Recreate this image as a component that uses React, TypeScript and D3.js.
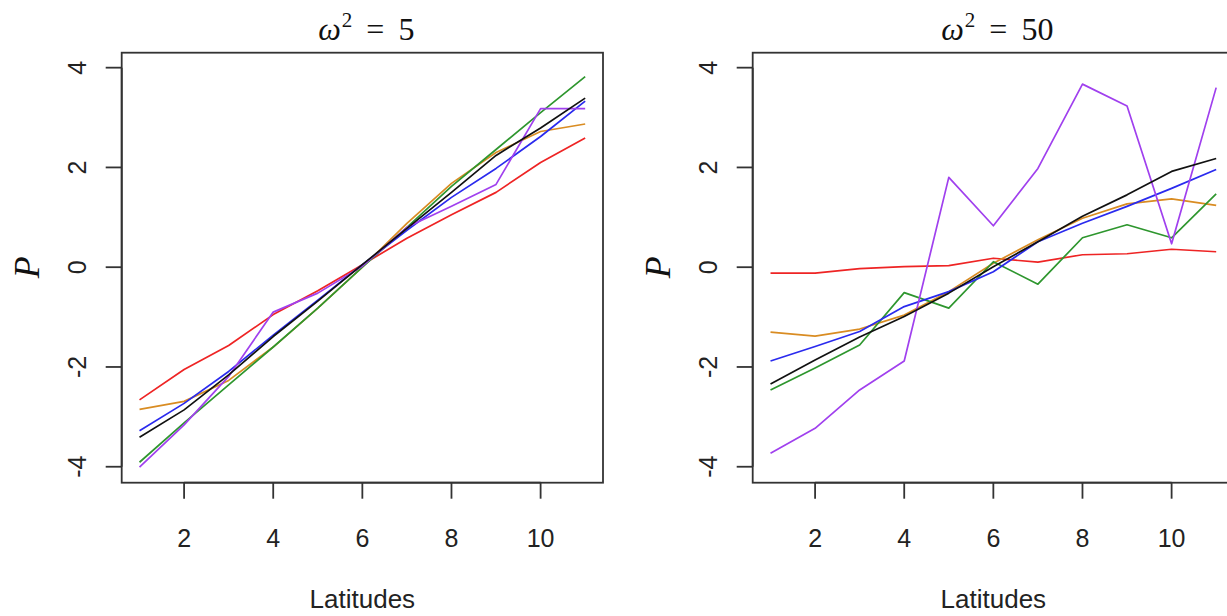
import React from "react";
import * as d3 from "d3";

const latitudes = [1, 2, 3, 4, 5, 6, 7, 8, 9, 10, 11];
const xTicks = [2, 4, 6, 8, 10];
const yTicks = [-4, -2, 0, 2, 4];

const seriesNames = ["red", "orange", "green", "blue", "purple", "black"];
const seriesColors = ["#ee2424", "#d98c22", "#2e962e", "#2a2aee", "#a040ee", "#111111"];

// omega^2 = 5
const w5Red = [-2.66, -2.05, -1.57, -0.95, -0.47, 0.05, 0.58, 1.05, 1.5, 2.1, 2.59];
const w5Orange = [-2.85, -2.69, -2.27, -1.6, -0.82, 0.0, 0.88, 1.68, 2.3, 2.72, 2.87];
const w5Green = [-3.91, -3.12, -2.36, -1.6, -0.82, 0.0, 0.8, 1.62, 2.36, 3.1, 3.82];
const w5Blue = [-3.28, -2.73, -2.09, -1.36, -0.66, 0.05, 0.74, 1.4, 1.98, 2.62, 3.33];
const w5Purple = [-4.01, -3.16, -2.19, -0.9, -0.52, 0.02, 0.8, 1.22, 1.66, 3.18, 3.18];
const w5Black = [-3.41, -2.86, -2.16, -1.39, -0.68, 0.05, 0.78, 1.5, 2.24, 2.79, 3.39];

// omega^2 = 50
const w50Red = [-0.12, -0.12, -0.03, 0.01, 0.03, 0.18, 0.1, 0.25, 0.27, 0.36, 0.31];
const w50Orange = [-1.3, -1.38, -1.24, -0.96, -0.49, 0.08, 0.55, 0.98, 1.27, 1.37, 1.24];
const w50Green = [-2.46, -2.02, -1.56, -0.51, -0.82, 0.11, -0.34, 0.59, 0.85, 0.59, 1.47];
const w50Blue = [-1.88, -1.59, -1.29, -0.79, -0.49, -0.09, 0.51, 0.88, 1.22, 1.58, 1.96];
const w50Purple = [-3.73, -3.23, -2.46, -1.88, 1.8, 0.83, 1.98, 3.67, 3.23, 0.47, 3.6];
const w50Black = [-2.34, -1.86, -1.4, -0.99, -0.52, 0.01, 0.51, 1.02, 1.45, 1.92, 2.18];

const panels = [
  { title: "5", left: 121.7, series: [w5Red, w5Orange, w5Green, w5Blue, w5Purple, w5Black] },
  { title: "50", left: 752.7, series: [w50Red, w50Orange, w50Green, w50Blue, w50Purple, w50Black] },
];

const PW = 481.3;
const TOP = 52.7;
const BOTTOM = 482.7;
const AXIS = "#333333";
const SANS = "'Liberation Sans', Arial, Helvetica, sans-serif";
const SERIF = "'Liberation Serif', 'DejaVu Serif', serif";

function Panel({ p }: { p: (typeof panels)[number] }) {
  const x = d3.scaleLinear().domain([0.6, 11.4]).range([p.left, p.left + PW]);
  const y = d3.scaleLinear().domain([-4.32, 4.3]).range([BOTTOM, TOP]);
  const line = d3
    .line<number>()
    .x((_, i) => x(latitudes[i]))
    .y((d) => y(d));
  const cx = p.left + PW / 2;
  const pX = p.left - 83;
  return (
    <g>
      {p.series.map((s, i) => (
        <path key={seriesNames[i]} d={line(s) || ""} fill="none" stroke={seriesColors[i]} strokeWidth={1.7} strokeLinejoin="round" />
      ))}
      <rect x={p.left} y={TOP} width={PW} height={BOTTOM - TOP} fill="none" stroke={AXIS} strokeWidth={1.8} />
      {/* x axis */}
      <line x1={x(xTicks[0])} x2={x(xTicks[xTicks.length - 1])} y1={BOTTOM} y2={BOTTOM} stroke={AXIS} strokeWidth={1.8} />
      {xTicks.map((t) => (
        <g key={"x" + t}>
          <line x1={x(t)} x2={x(t)} y1={BOTTOM} y2={BOTTOM + 16} stroke={AXIS} strokeWidth={1.8} />
          <text x={x(t)} y={547} textAnchor="middle" fontFamily={SANS} fontSize={25} fill="#222">
            {t}
          </text>
        </g>
      ))}
      {/* y axis */}
      <line x1={p.left} x2={p.left} y1={y(yTicks[0])} y2={y(yTicks[yTicks.length - 1])} stroke={AXIS} strokeWidth={1.8} />
      {yTicks.map((t) => (
        <g key={"y" + t}>
          <line x1={p.left - 16} x2={p.left} y1={y(t)} y2={y(t)} stroke={AXIS} strokeWidth={1.8} />
          <text
            x={p.left - 36}
            y={y(t)}
            transform={`rotate(-90, ${p.left - 36}, ${y(t)})`}
            textAnchor="middle"
            fontFamily={SANS}
            fontSize={25}
            fill="#222"
          >
            {t}
          </text>
        </g>
      ))}
      {/* titles */}
      <text x={cx + 4} y={40} textAnchor="middle" fontFamily={SERIF} fontSize={32} fill="#111">
        <tspan fontStyle="italic">ω</tspan>
        <tspan fontSize={21} dy={-13} dx={1}>2</tspan>
        <tspan dy={13} dx={14}>=</tspan>
        <tspan dx={14}>{p.title}</tspan>
      </text>
      <text x={cx} y={608} textAnchor="middle" fontFamily={SANS} fontSize={26} fill="#222">
        Latitudes
      </text>
      <text
        x={pX}
        y={y(0)}
        transform={`rotate(-90, ${pX}, ${y(0)})`}
        textAnchor="middle"
        fontFamily={SERIF}
        fontStyle="italic"
        fontSize={36}
        fill="#111"
      >
        P
      </text>
    </g>
  );
}

export default function App() {
  return (
    <svg
      width={1227}
      height={616}
      style={{ position: "absolute", left: 0, top: 0, background: "#fff" }}
    >
      <rect x={0} y={0} width={1227} height={616} fill="#fff" />
      {panels.map((p) => (
        <Panel key={p.title} p={p} />
      ))}
    </svg>
  );
}
